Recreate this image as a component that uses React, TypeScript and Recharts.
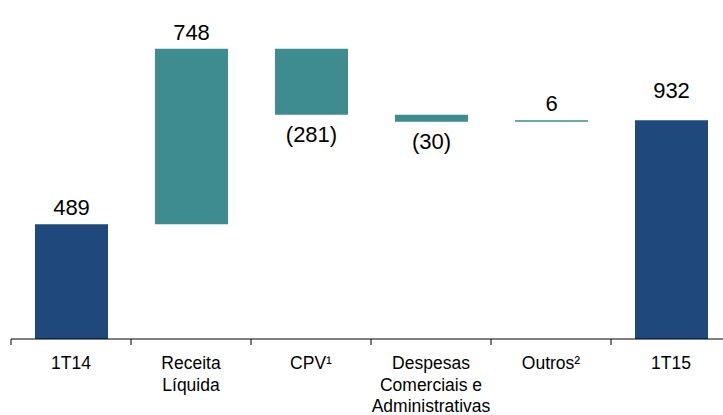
import React from 'react';
import { BarChart, Bar, XAxis, YAxis, Cell, LabelList } from 'recharts';

const categories = ['1T14', 'Receita\nLíquida', 'CPV¹', 'Despesas\nComerciais e\nAdministrativas', 'Outros²', '1T15'];
const values = [489, 748, -281, -30, 6, 932];
const isTotal = [true, false, false, false, false, true];
const valueLabels = ['489', '748', '(281)', '(30)', '6', '932'];

const BLUE = '#1F497D';
const TEAL = '#3E8B90';
const FONT = '"Liberation Sans", Arial, Helvetica, sans-serif';

const W = 723;
const H = 415;
const M_LEFT = 11;
const M_RIGHT = -8;
const M_TOP = 48;
const AXIS_H = 76;
const TICK_SIZE = 6;
const TICK_MARGIN = 4;

let running = 0;
const data = categories.map((name, i) => {
  let range: number[];
  if (isTotal[i]) {
    range = [0, values[i]];
    running = values[i];
  } else {
    const start = running;
    running += values[i];
    range = [Math.min(start, running), Math.max(start, running)];
  }
  return { name, range, value: values[i], label: valueLabels[i], total: isTotal[i] };
});

const bandHalf = (W - M_LEFT - M_RIGHT) / categories.length / 2;

const CategoryTick = (props: any) => {
  const { x, y, payload } = props;
  const lines = String(payload.value).split('\n');
  const axisY = y - TICK_SIZE - TICK_MARGIN;
  return (
    <g>
      <line x1={x - bandHalf} y1={axisY} x2={x - bandHalf} y2={axisY + TICK_SIZE} stroke="#000" strokeWidth={1} />
      <text x={x} y={axisY + 30} textAnchor="middle" fontSize={17.5} fontFamily={FONT} fill="#000">
        {lines.map((l, i) => (
          <tspan key={i} x={x} dy={i === 0 ? 0 : 21.5}>{l}</tspan>
        ))}
      </text>
    </g>
  );
};

const ValueLabel = (props: any) => {
  const { x, y, width, height, index } = props;
  const d = data[index];
  if (!d) return null;
  const cx = x + width / 2;
  const top = Math.min(y, y + height);
  const bottom = Math.max(y, y + height);
  const neg = d.value < 0;
  const gap = index === data.length - 1 ? 22 : 9;
  const ty = neg ? bottom + 27 : top - gap;
  return (
    <text x={cx} y={ty} textAnchor="middle" fontSize={22} fontFamily={FONT} fill="#000">
      {d.label}
    </text>
  );
};

export default function App() {
  return (
    <div style={{ position: 'absolute', left: 0, top: 0, width: W, height: H, background: '#fff' }}>
      <BarChart
        width={W}
        height={H}
        data={data}
        margin={{ top: M_TOP, right: M_RIGHT, bottom: 0, left: M_LEFT }}
        barCategoryGap={0}
      >
        <XAxis
          dataKey="name"
          interval={0}
          height={AXIS_H}
          axisLine={{ stroke: '#000', strokeWidth: 1 }}
          tickLine={false}
          tickSize={TICK_SIZE}
          tickMargin={TICK_MARGIN}
          tick={<CategoryTick />}
        />
        <YAxis hide domain={[0, 1240]} />
        <Bar dataKey="range" barSize={73} isAnimationActive={false}>
          {data.map((d, i) => (
            <Cell key={i} fill={d.total ? BLUE : TEAL} />
          ))}
          <LabelList dataKey="range" content={<ValueLabel />} />
        </Bar>
      </BarChart>
    </div>
  );
}
